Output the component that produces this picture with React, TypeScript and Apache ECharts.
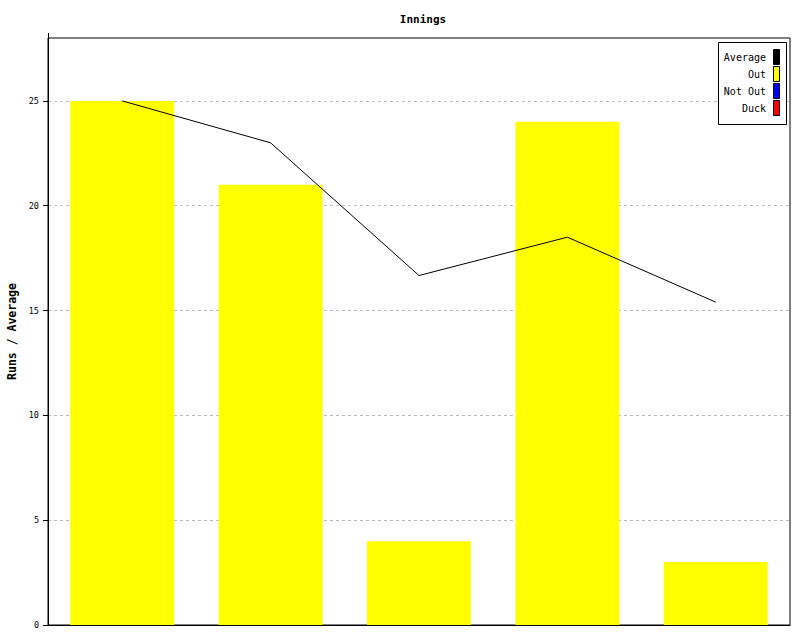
import React, { useEffect, useRef } from "react";
import * as echarts from "echarts";

const categories = ["1", "2", "3", "4", "5"];
const outRuns = [25, 21, 4, 24, 3];
const averages = [25, 23, 16.67, 18.5, 15.4];
const yTicks = [0, 5, 10, 15, 20, 25];
const legendItems = [
  { name: "Average", color: "#000000" },
  { name: "Out", color: "#ffff00" },
  { name: "Not Out", color: "#0000ff" },
  { name: "Duck", color: "#ff0000" },
];

const FONT = "'DejaVu Sans Mono', 'Liberation Mono', monospace";

export default function App() {
  const ref = useRef<HTMLDivElement>(null);
  useEffect(() => {
    if (!ref.current) return;
    const chart = echarts.init(ref.current, undefined, { renderer: "svg" });
    const legendGraphics: any[] = [
      {
        type: "rect",
        shape: { x: 718.5, y: 42.5, width: 68, height: 82 },
        style: { fill: "#fff", stroke: "#000", lineWidth: 1 },
        z: 100,
      },
    ];
    legendItems.forEach((it, i) => {
      const cy = 57 + i * 17;
      legendGraphics.push({
        type: "text",
        x: 766,
        y: cy,
        style: {
          text: it.name,
          fill: "#000",
          font: `10px ${FONT}`,
          align: "right",
          verticalAlign: "middle",
        },
        z: 101,
      });
      legendGraphics.push({
        type: "rect",
        shape: { x: 773.5, y: cy - 7.5, width: 6, height: 15 },
        style: { fill: it.color, stroke: "#000", lineWidth: 1 },
        z: 101,
      });
    });
    chart.setOption({
      animation: false,
      backgroundColor: "#fff",
      title: {
        text: "Innings",
        left: 418,
        top: 9,
        textAlign: "center",
        textStyle: { fontFamily: FONT, fontSize: 11, fontWeight: "bold", color: "#000" },
      },
      grid: {
        left: 48,
        right: 10,
        top: 38,
        bottom: 15,
        show: true,
        borderColor: "#000",
        borderWidth: 1,
        containLabel: false,
        outerBoundsMode: "none",
      },
      xAxis: {
        type: "category",
        data: categories,
        axisLine: { show: true, lineStyle: { color: "#000", width: 1 } },
        axisTick: { show: false },
        axisLabel: { show: false },
        splitLine: { show: false },
      },
      yAxis: {
        type: "value",
        min: 0,
        max: 28,
        interval: 5,
        name: "Runs / Average",
        nameLocation: "middle",
        nameGap: 29,
        nameRotate: 90,
        nameTextStyle: { fontFamily: FONT, fontSize: 11.5, fontWeight: "bold", color: "#000" },
        axisLine: { show: true, lineStyle: { color: "#000", width: 1 } },
        axisTick: { show: true, length: 5, inside: false, customValues: yTicks, lineStyle: { color: "#000", width: 1 } },
        axisLabel: {
          customValues: yTicks,
          fontFamily: FONT,
          fontSize: 8.5,
          color: "#000",
          margin: 9,
        },
        splitLine: { show: true, lineStyle: { color: "#bbbbbb", type: [3, 3], width: 1 } },
      },
      graphic: [
        {
          type: "line",
          shape: { x1: 48.5, y1: 33, x2: 48.5, y2: 38 },
          style: { stroke: "#000", lineWidth: 1 },
        },
        ...legendGraphics,
      ],
      series: [
        {
          name: "Out",
          type: "bar",
          data: outRuns,
          barWidth: "70%",
          itemStyle: { color: "#ffff00" },
        },
        {
          name: "Average",
          type: "line",
          data: averages,
          showSymbol: false,
          symbol: "none",
          lineStyle: { color: "#000", width: 1 },
          z: 5,
        },
      ],
    });
    return () => chart.dispose();
  }, []);
  return (
    <div
      ref={ref}
      style={{ position: "absolute", left: 0, top: 0, width: 800, height: 640 }}
    />
  );
}
